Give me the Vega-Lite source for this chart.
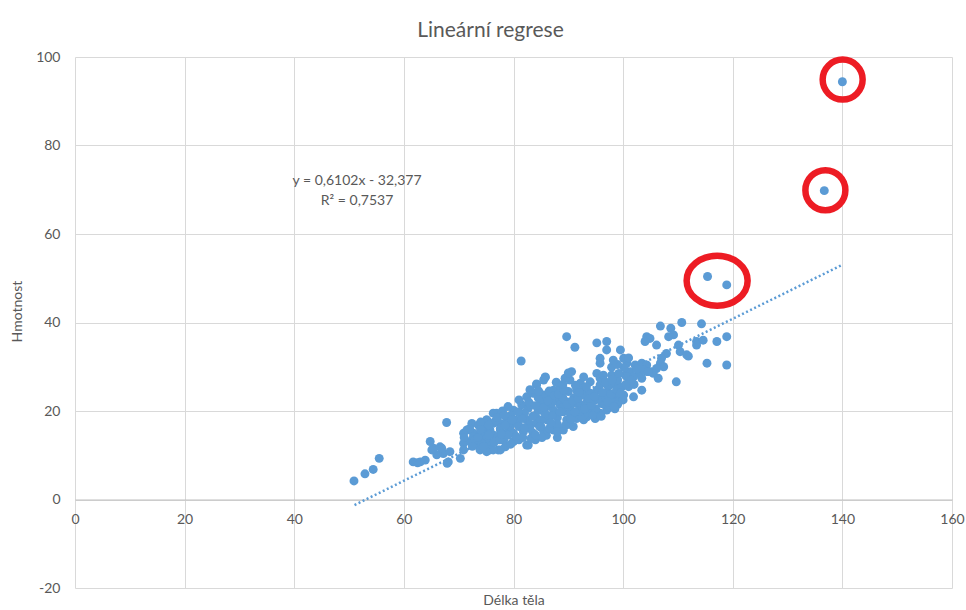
{
  "$schema": "https://vega.github.io/schema/vega-lite/v6.json",
  "width": 877,
  "height": 531,
  "autosize": {"type": "none"},
  "padding": {"left": 75, "top": 57, "right": 14, "bottom": 22},
  "background": "white",
  "title": {"text": "Lineární regrese", "fontSize": 21, "font": "Lato", "fontWeight": "normal", "color": "#595959", "anchor": "middle", "dx": -23, "dy": 33, "offset": 22, "baseline": "alphabetic"},
  "config": {
    "view": {"stroke": null},
    "font": "Lato"
  },
  "datasets": {
    "pts": [
      {"d":50.9,"h":4.2},{"d":52.9,"h":5.8},{"d":54.4,"h":6.8},{"d":55.5,"h":9.3},
      {"d":61.7,"h":8.5},{"d":62.5,"h":8.3},{"d":63.0,"h":8.5},{"d":63.9,"h":8.9},{"d":64.8,"h":13.1},{"d":65.4,"h":11.6},{"d":66.6,"h":11.9},{"d":67.2,"h":10.4},{"d":68.4,"h":10.8},{"d":68.1,"h":8.5},{"d":66.0,"h":10.1},{"d":67.8,"h":17.4},{"d":67.9,"h":8.2},{"d":66.9,"h":11.6},{"d":65.1,"h":11.2},
      {"d":70.3,"h":9.3},{"d":70.9,"h":15.0},{"d":72.4,"h":17.2},{"d":73.6,"h":16.8},{"d":75.1,"h":18.0},{"d":76.9,"h":19.5},{"d":76.6,"h":17.6},
      {"d":70.9,"h":12.7},{"d":72.1,"h":13.1},{"d":73.3,"h":12.3},{"d":74.5,"h":13.4},{"d":75.7,"h":12.7},{"d":70.9,"h":11.2},
      {"d":72.7,"h":15.0},{"d":74.5,"h":15.3},{"d":75.7,"h":15.7},
      {"d":73.9,"h":11.2},{"d":75.7,"h":11.2},{"d":77.2,"h":11.2},{"d":78.2,"h":13.4},{"d":78.8,"h":15.0},
      {"d":77.6,"h":15.7},{"d":79.4,"h":16.5},{"d":80.3,"h":18.0},{"d":81.2,"h":19.5},{"d":82.4,"h":12.3},
      {"d":71.5,"h":15.7},{"d":73.9,"h":14.6},{"d":75.1,"h":13.8},{"d":76.3,"h":14.6},{"d":72.7,"h":14.2},
      {"d":85.8,"h":27.6},{"d":84.2,"h":26.1},{"d":90.6,"h":28.9},{"d":90.3,"h":27.0},{"d":92.2,"h":26.3},{"d":91.5,"h":24.7},{"d":90.0,"h":24.4},{"d":92.8,"h":25.1},
      {"d":95.2,"h":28.5},{"d":95.8,"h":27.4},{"d":97.3,"h":25.5},{"d":97.9,"h":28.1},{"d":100.4,"h":28.1},
      {"d":95.2,"h":24.7},{"d":97.0,"h":24.0},{"d":98.8,"h":23.2},{"d":100.1,"h":23.6},
      {"d":82.4,"h":23.2},{"d":83.6,"h":24.0},{"d":85.5,"h":23.6},{"d":86.7,"h":22.9},{"d":88.2,"h":22.1},
      {"d":89.7,"h":22.1},{"d":91.5,"h":21.7},{"d":93.4,"h":22.1},{"d":94.9,"h":22.5},{"d":96.1,"h":21.7},{"d":97.0,"h":20.2},
      {"d":94.9,"h":18.3},{"d":92.2,"h":19.8},
      {"d":76.3,"h":19.5},{"d":75.1,"h":18.0},{"d":77.6,"h":17.2},{"d":78.8,"h":18.3},
      {"d":80.0,"h":20.2},{"d":81.5,"h":21.4},{"d":82.7,"h":20.6},{"d":84.5,"h":20.2},{"d":86.1,"h":21.0},{"d":87.3,"h":20.2},{"d":89.1,"h":19.8},{"d":90.3,"h":19.5},
      {"d":80.6,"h":17.2},{"d":82.4,"h":18.0},{"d":84.2,"h":17.2},{"d":86.1,"h":18.0},{"d":87.9,"h":16.8},{"d":89.7,"h":18.0},{"d":91.5,"h":18.3},{"d":92.8,"h":18.0},
      {"d":80.0,"h":15.0},{"d":81.8,"h":15.3},{"d":83.6,"h":15.0},{"d":85.5,"h":15.3},{"d":87.3,"h":15.7},{"d":89.1,"h":15.7},{"d":90.9,"h":16.5},
      {"d":82.7,"h":12.3},{"d":80.0,"h":13.1},{"d":78.5,"h":11.9},{"d":77.6,"h":11.2},{"d":76.3,"h":11.2},{"d":75.1,"h":10.8},{"d":74.2,"h":12.7},
      {"d":76.9,"h":14.2},{"d":75.7,"h":15.0},{"d":74.5,"h":16.5},{"d":77.6,"h":16.1},{"d":76.3,"h":17.2},
      {"d":87.3,"h":24.7},{"d":88.5,"h":25.5},{"d":89.4,"h":27.4},{"d":90.0,"h":28.6},{"d":92.8,"h":27.7},{"d":94.0,"h":26.6},{"d":95.8,"h":25.9},
      {"d":98.2,"h":22.1},{"d":99.5,"h":22.9},{"d":94.0,"h":20.2},{"d":95.8,"h":19.5},{"d":93.4,"h":18.7},{"d":88.5,"h":21.4},{"d":90.3,"h":21.0},{"d":92.2,"h":21.4},
      {"d":100.7,"h":30.8},{"d":102.2,"h":30.4},{"d":103.4,"h":30.8},{"d":104.3,"h":30.4},{"d":101.3,"h":28.9},{"d":102.8,"h":28.5},{"d":104.3,"h":28.9},{"d":105.2,"h":28.9},{"d":100.7,"h":27.7},{"d":101.9,"h":27.7},{"d":103.4,"h":27.4},
      {"d":99.5,"h":33.8},{"d":100.1,"h":31.9},{"d":97.9,"h":29.9},{"d":97.0,"h":35.7},{"d":97.0,"h":33.8},{"d":95.2,"h":35.4},{"d":95.8,"h":31.9},{"d":95.8,"h":30.8},{"d":96.4,"h":28.1},
      {"d":101.9,"h":23.2},{"d":103.4,"h":24.7},{"d":92.8,"h":23.6},{"d":94.0,"h":24.0},
      {"d":89.7,"h":36.8},{"d":91.2,"h":34.4},{"d":81.4,"h":31.3},{"d":85.8,"h":27.7},{"d":84.2,"h":25.9},{"d":85.5,"h":27.0},
      {"d":106.8,"h":39.2},{"d":110.7,"h":40.0},{"d":114.3,"h":39.7},{"d":108.7,"h":38.7},{"d":109.2,"h":37.2},{"d":108.3,"h":36.8},{"d":104.3,"h":36.8},{"d":104.9,"h":36.4},{"d":104.0,"h":35.7},{"d":106.1,"h":34.9},{"d":110.1,"h":34.9},{"d":113.4,"h":35.7},{"d":114.6,"h":36.0},{"d":117.1,"h":35.7},{"d":118.9,"h":36.8},{"d":115.3,"h":30.8},{"d":118.9,"h":30.4},{"d":109.7,"h":26.6},{"d":111.9,"h":32.4},
      {"d":107.9,"h":33.0},{"d":107.0,"h":31.9},{"d":106.8,"h":30.8},{"d":107.4,"h":30.0},{"d":106.1,"h":29.6},{"d":105.5,"h":28.5},{"d":106.4,"h":27.4},{"d":110.4,"h":33.4},{"d":111.6,"h":32.7},{"d":113.4,"h":34.9},
      {"d":103.7,"h":29.3},{"d":104.6,"h":28.9},
      {"d":92.5,"h":18.5},{"d":93.5,"h":19.5},{"d":95.0,"h":20.5},{"d":96.5,"h":21.5},{"d":98.0,"h":22.0},{"d":99.0,"h":21.5},{"d":100.0,"h":22.5},{"d":97.5,"h":20.8},{"d":94.5,"h":19.0},{"d":96.0,"h":18.8},{"d":98.5,"h":20.5},
      {"d":79.0,"h":17.0},{"d":81.0,"h":16.5},{"d":83.0,"h":17.0},{"d":85.0,"h":16.5},{"d":86.0,"h":19.0},{"d":88.0,"h":18.5},{"d":84.0,"h":19.0},{"d":82.0,"h":19.5},{"d":79.5,"h":19.0},{"d":83.0,"h":21.5},{"d":85.0,"h":22.0},{"d":87.0,"h":21.8},{"d":89.0,"h":23.0},{"d":91.0,"h":23.0},{"d":86.5,"h":24.5},{"d":84.5,"h":23.0},{"d":81.0,"h":22.5},{"d":79.0,"h":21.0},{"d":78.0,"h":20.0},{"d":88.0,"h":17.0},{"d":90.0,"h":17.0},{"d":92.0,"h":20.0},{"d":93.0,"h":21.0},{"d":89.0,"h":20.8},{"d":86.0,"h":14.5},{"d":84.0,"h":13.5},{"d":88.0,"h":14.0},{"d":81.0,"h":13.5},{"d":79.0,"h":14.5},{"d":83.0,"h":16.0},{"d":87.0,"h":19.0},{"d":85.0,"h":18.0},
      {"d":71.0,"h":14.0},{"d":73.0,"h":13.5},{"d":74.0,"h":17.5},{"d":72.0,"h":16.0},
      {"d":98.5,"h":26.0},{"d":99.0,"h":27.0},{"d":96.5,"h":26.8},{"d":102.0,"h":26.0},{"d":101.0,"h":25.5},
      {"d":72.5,"h":12.0},{"d":73.5,"h":14.0},{"d":74.5,"h":12.0},{"d":75.5,"h":14.5},{"d":76.5,"h":13.0},{"d":74.0,"h":15.8},{"d":75.5,"h":16.8},{"d":77.0,"h":18.5},
      {"d":77.5,"h":13.5},{"d":78.5,"h":16.8},{"d":79.5,"h":12.5},{"d":80.5,"h":14.2},{"d":81.5,"h":18.3},{"d":80.8,"h":19.8},{"d":82.0,"h":16.2},{"d":81.7,"h":14.0},{"d":79.7,"h":18.0},{"d":78.3,"h":19.0},{"d":77.8,"h":14.8},
      {"d":83.2,"h":13.8},{"d":84.0,"h":14.6},{"d":85.2,"h":14.0},{"d":86.5,"h":16.0},{"d":84.8,"h":16.4},{"d":83.5,"h":18.8},{"d":85.7,"h":19.5},{"d":86.8,"h":17.3},{"d":82.8,"h":22.0},{"d":84.0,"h":21.2},{"d":85.5,"h":20.8},{"d":86.3,"h":22.3},{"d":83.0,"h":24.8},{"d":84.6,"h":24.5},{"d":87.5,"h":23.5},
      {"d":88.0,"h":15.3},{"d":89.5,"h":16.8},{"d":90.5,"h":18.2},{"d":91.2,"h":19.8},{"d":88.5,"h":19.8},{"d":89.8,"h":21.5},{"d":90.8,"h":22.3},{"d":91.8,"h":22.8},{"d":88.2,"h":23.8},{"d":89.2,"h":24.8},{"d":87.8,"h":26.5},{"d":89.0,"h":26.0},{"d":91.3,"h":25.8},{"d":92.0,"h":24.2},
      {"d":93.0,"h":20.5},{"d":94.2,"h":21.3},{"d":95.5,"h":22.8},{"d":96.8,"h":23.0},{"d":97.8,"h":23.8},{"d":98.8,"h":24.8},{"d":99.8,"h":25.5},{"d":96.2,"h":24.2},{"d":93.8,"h":22.8},{"d":94.8,"h":23.3},{"d":97.2,"h":22.0},{"d":98.3,"h":21.0},{"d":99.5,"h":24.0},{"d":93.3,"h":25.5},{"d":96.8,"h":26.5},{"d":98.0,"h":27.0},{"d":99.2,"h":28.5},{"d":100.5,"h":26.0},{"d":101.5,"h":27.0},{"d":102.5,"h":29.5},{"d":100.2,"h":29.8},{"d":99.0,"h":30.5},{"d":98.2,"h":31.5},{"d":101.0,"h":32.0},
      {"d":115.4,"h":50.4},{"d":118.9,"h":48.5},{"d":136.7,"h":69.8},{"d":140.0,"h":94.4}
    ],
    "trend": [{"d":51,"h":-1.26},{"d":140,"h":53.05}],
    "circ": [{"d":140.05,"h":94.9},{"d":136.9,"h":69.9}],
    "ell": [{"d":117.15,"h":49.45}],
    "eq": [{"d":51.46,"h":71.98,"t":"y = 0,6102x - 32,377"},{"d":51.46,"h":67.46,"t":"R² = 0,7537"}]
  },
  "layer": [
    {
      "data": {"name": "trend"},
      "mark": {"type": "line", "color": "#5b9bd5", "strokeDash": [2, 2.5], "strokeWidth": 2.5},
      "encoding": {
        "x": {"field": "d", "type": "quantitative",
          "scale": {"domain": [0, 160], "nice": false, "zero": false},
          "axis": {"title": "Délka těla", "values": [0,20,40,60,80,100,120,140,160], "offset": -88.5, "ticks": false, "domainColor": "#bfbfbf", "domainWidth": 1, "gridColor": "#d9d9d9", "gridWidth": 1, "labelFlush": false, "labelOverlap": false, "labelPadding": 13, "labelFontSize": 14, "labelColor": "#595959", "labelFont": "Lato", "titleFont": "Lato", "titleFontSize": 14, "titleFontWeight": "normal", "titleColor": "#595959", "titlePadding": 67}},
        "y": {"field": "h", "type": "quantitative",
          "scale": {"domain": [-20, 100], "nice": false, "zero": false},
          "axis": {"title": "Hmotnost", "values": [-20,0,20,40,60,80,100], "labelExpr": "'' + datum.value", "ticks": false, "domain": false, "gridColor": "#d9d9d9", "gridWidth": 1, "labelFlush": false, "labelOverlap": false, "labelPadding": 15, "labelFontSize": 14, "labelColor": "#595959", "labelFont": "Lato", "titleFont": "Lato", "titleFontSize": 14, "titleFontWeight": "normal", "titleColor": "#595959", "titlePadding": 11, "titleY": 254}}
      }
    },
    {
      "data": {"name": "pts"},
      "mark": {"type": "circle", "size": 80, "color": "#5b9bd5", "opacity": 1},
      "encoding": {
        "x": {"field": "d", "type": "quantitative"},
        "y": {"field": "h", "type": "quantitative"}
      }
    },
    {
      "data": {"name": "circ"},
      "mark": {"type": "point", "shape": "circle", "size": 1600, "filled": false, "color": "#ed1c24", "strokeWidth": 6.5, "opacity": 1},
      "encoding": {
        "x": {"field": "d", "type": "quantitative"},
        "y": {"field": "h", "type": "quantitative"}
      }
    },
    {
      "data": {"name": "ell"},
      "mark": {"type": "point", "shape": "M-1,0A1,0.82,0,1,0,1,0A1,0.82,0,1,0,-1,0Z", "size": 3721, "filled": false, "color": "#ed1c24", "strokeWidth": 6.5, "opacity": 1},
      "encoding": {
        "x": {"field": "d", "type": "quantitative"},
        "y": {"field": "h", "type": "quantitative"}
      }
    },
    {
      "data": {"name": "eq"},
      "mark": {"type": "text", "fontSize": 14, "font": "Lato", "color": "#595959", "align": "center", "baseline": "middle"},
      "encoding": {
        "x": {"field": "d", "type": "quantitative"},
        "y": {"field": "h", "type": "quantitative"},
        "text": {"field": "t"}
      }
    }
  ]
}
